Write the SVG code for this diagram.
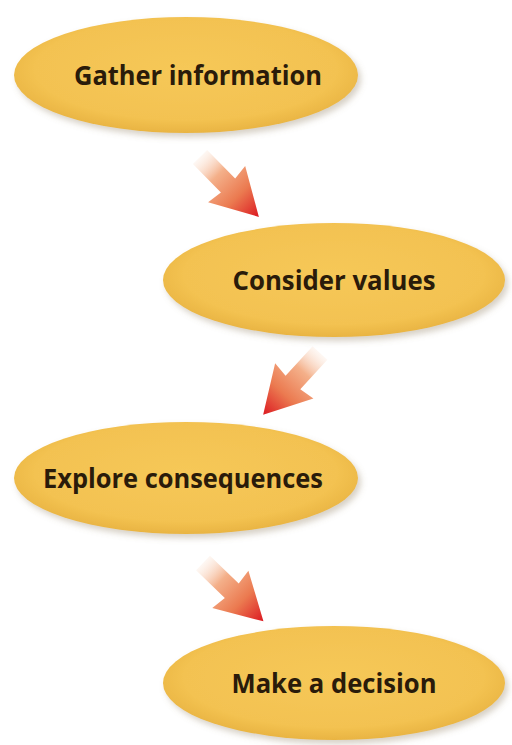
<svg xmlns="http://www.w3.org/2000/svg" width="512" height="745" viewBox="0 0 512 745">
<style>
  .node { fill: url(#fillG); filter: url(#shadow); }
  .label { font-family: "Open Sans", "Liberation Sans", sans-serif; font-weight: 700; font-size: 26px; fill: #2a1b0a; text-anchor: middle; }
  .arrow { fill: url(#arrowG); }
</style>
<defs>
  <radialGradient id="fillG" cx="0.5" cy="0.45" r="0.55">
    <stop offset="0" stop-color="#f6c858"/>
    <stop offset="0.8" stop-color="#f3c251"/>
    <stop offset="1" stop-color="#e9b442"/>
  </radialGradient>
  <filter id="shadow" x="-10%" y="-20%" width="125%" height="150%">
    <feDropShadow dx="3" dy="4" stdDeviation="3" flood-color="#8a7a5a" flood-opacity="0.35"/>
  </filter>
  <linearGradient id="arrowG" gradientUnits="userSpaceOnUse" x1="0" y1="0" x2="84" y2="0">
    <stop offset="0" stop-color="#fbe6d8" stop-opacity="0.3"/>
    <stop offset="0.3" stop-color="#f4b08a"/>
    <stop offset="0.65" stop-color="#eb7a50"/>
    <stop offset="1" stop-color="#dc1a22"/>
  </linearGradient>
  <path id="arrowShape" d="M0,-10 L40,-10 L38,-26 L84,0 L38,26 L40,10 L0,10 Z"/>
</defs>

<g id="connectors">
  <use href="#arrowShape" class="arrow" transform="translate(200,157) rotate(45.5)"/>
  <use href="#arrowShape" class="arrow" transform="translate(320,353) rotate(132.6)"/>
  <use href="#arrowShape" class="arrow" transform="translate(203,563) rotate(44)"/>
</g>

<g id="node1">
  <ellipse class="node" cx="186" cy="75" rx="172" ry="58"/>
  <text class="label" x="198" y="85" textLength="248" lengthAdjust="spacingAndGlyphs">Gather information</text>
</g>
<g id="node2">
  <ellipse class="node" cx="334" cy="280" rx="171" ry="57"/>
  <text class="label" x="334" y="290" textLength="203" lengthAdjust="spacingAndGlyphs">Consider values</text>
</g>
<g id="node3">
  <ellipse class="node" cx="186" cy="478" rx="172" ry="56"/>
  <text class="label" x="183" y="488" textLength="280" lengthAdjust="spacingAndGlyphs">Explore consequences</text>
</g>
<g id="node4">
  <ellipse class="node" cx="334" cy="683" rx="171" ry="57"/>
  <text class="label" x="334" y="693" textLength="205" lengthAdjust="spacingAndGlyphs">Make a decision</text>
</g>
</svg>
